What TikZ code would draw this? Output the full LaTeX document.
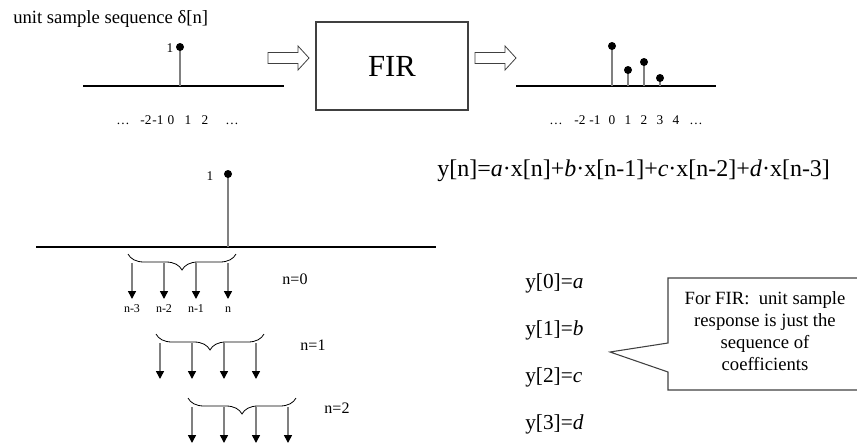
\documentclass[tikz,border=0pt]{standalone}
\usepackage{fontspec}
\setmainfont{Liberation Serif}
\usetikzlibrary{arrows.meta, decorations.pathreplacing}
\definecolor{stemgrey}{HTML}{808080}
\definecolor{edgegrey}{HTML}{404040}

% hollow block arrow, argument = tail centre
\newcommand{\fatarrow}[1]{%
  \draw[edgegrey, line width=0.6pt] #1 ++(0,-5.5) -- ++(30,0) -- ++(0,-6.5) -- ++(11,12)
    -- ++(-11,12) -- ++(0,-6.5) -- ++(-30,0) -- cycle;}

\begin{document}
\begin{tikzpicture}[x=0.75pt, y=-0.75pt,
        axis/.style={black, line width=0.8pt},
        stem/.style={stemgrey, line width=1.2pt},
        dot/.style={circle, fill=black, inner sep=0pt, minimum size=6pt},
        tap/.style={stemgrey, line width=1.2pt, -{Triangle[width=6pt, length=6pt, black]}},
        brc/.style={decorate, decoration={brace, amplitude=12pt, mirror}, line width=0.6pt},
        numlbl/.style={font=\fontsize{10}{12}\selectfont, inner sep=0pt, anchor=base}]
        \useasboundingbox (0,0) rectangle (857,443);
        \clip (0,0) rectangle (857,443);

        % input: unit sample
        \node[anchor=base west, inner sep=0pt, font=\fontsize{14}{16}\selectfont] (title) at (13,23)
          {unit sample sequence δ[n]};
        \coordinate (inL) at (83,86);
        \coordinate (inR) at (284,86);
        \coordinate (in0) at (180,86);
        \draw[axis] (inL) -- (inR);
        \draw[stem] (in0) -- (180,47);
        \node[dot] (din) at (180,47) {};
        \node[numlbl] (one) at (170,52) {1};
        \foreach \x/\t [count=\i] in {123/…, 146/-2, 158/-1, 171/0, 188/1, 205/2, 232/…}
          \node[numlbl] (il\i) at (\x,124) {\t};

        % system
        \fatarrow{(268,58)}
        \node[draw=edgegrey, line width=0.8pt, minimum width=114pt, minimum height=66pt,
              font=\fontsize{23}{26}\selectfont] (fir) at (392,66) {FIR};
        \fatarrow{(475,58)}

        % output: coefficients
        \coordinate (outL) at (516,86);
        \coordinate (outR) at (716,86);
        \draw[axis] (outL) -- (outR);
        \foreach \x/\y [count=\i] in {612/46, 628/70, 644/62, 660/78}{
          \coordinate (ob\i) at (\x,86);
          \draw[stem] (ob\i) -- (\x,\y);
          \node[dot] (od\i) at (\x,\y) {};
        }
        \foreach \x/\t [count=\i] in {556/…, 580/-2, 595/-1, 612/0, 628/1, 644/2, 660/3, 676/4, 696/…}
          \node[numlbl] (ol\i) at (\x,124) {\t};

        \node[anchor=base west, inner sep=0pt, font=\fontsize{18}{20}\selectfont] (eq) at (437,176)
          {y[n]=\textit{a}·x[n]+\textit{b}·x[n-1]+\textit{c}·x[n-2]+\textit{d}·x[n-3]};

        % sliding the taps over the impulse
        \coordinate (bL) at (36,247);
        \coordinate (bR) at (436,247);
        \coordinate (b0) at (228,247);
        \draw[axis] (bL) -- (bR);
        \draw[stem] (b0) -- (228,174);
        \node[dot] (dbig) at (228,174) {};
        \node[numlbl] (onebig) at (210,180) {1};

        \foreach \x/\y/\k/\lx/\ly in {132/254/0/295/279, 160/334/1/313/345, 192/398/2/337/408}{
          \draw[brc] (\x-4,\y) -- (\x+104,\y);
          \foreach \j in {0,...,3}{
            \coordinate (s\k\j) at (\x+32*\j,\y+9);
            \coordinate (e\k\j) at (\x+32*\j,\y+45);
            \draw[tap] (s\k\j) -- (e\k\j);
          }
          \node[font=\fontsize{12}{14}\selectfont] (nk\k) at (\lx,\ly) {n=\k};
        }
        \foreach \t [count=\j from 0] in {n-3, n-2, n-1, n}
          \node[font=\fontsize{9}{10}\selectfont, inner sep=0pt, anchor=base] (tl\j) at (132+32*\j,312) {\t};

        \foreach \v [count=\i from 0] in {a, b, c, d}
          \node[anchor=base west, inner sep=0pt, font=\fontsize{16}{18}\selectfont] (y\i) at (525,288+47*\i)
            {y[\i]=\textit{\v}};

        \node[align=center, font=\fontsize{14}{16.5}\selectfont] (note) at (765,331)
          {For FIR:\ \ unit sample\\response is just the\\sequence of\\coefficients};
        \draw[edgegrey, line width=0.8pt] (862,278) -| (668,343) -- (610,352) -- (668,372) |- (862,390);
      \end{tikzpicture}
\end{document}
